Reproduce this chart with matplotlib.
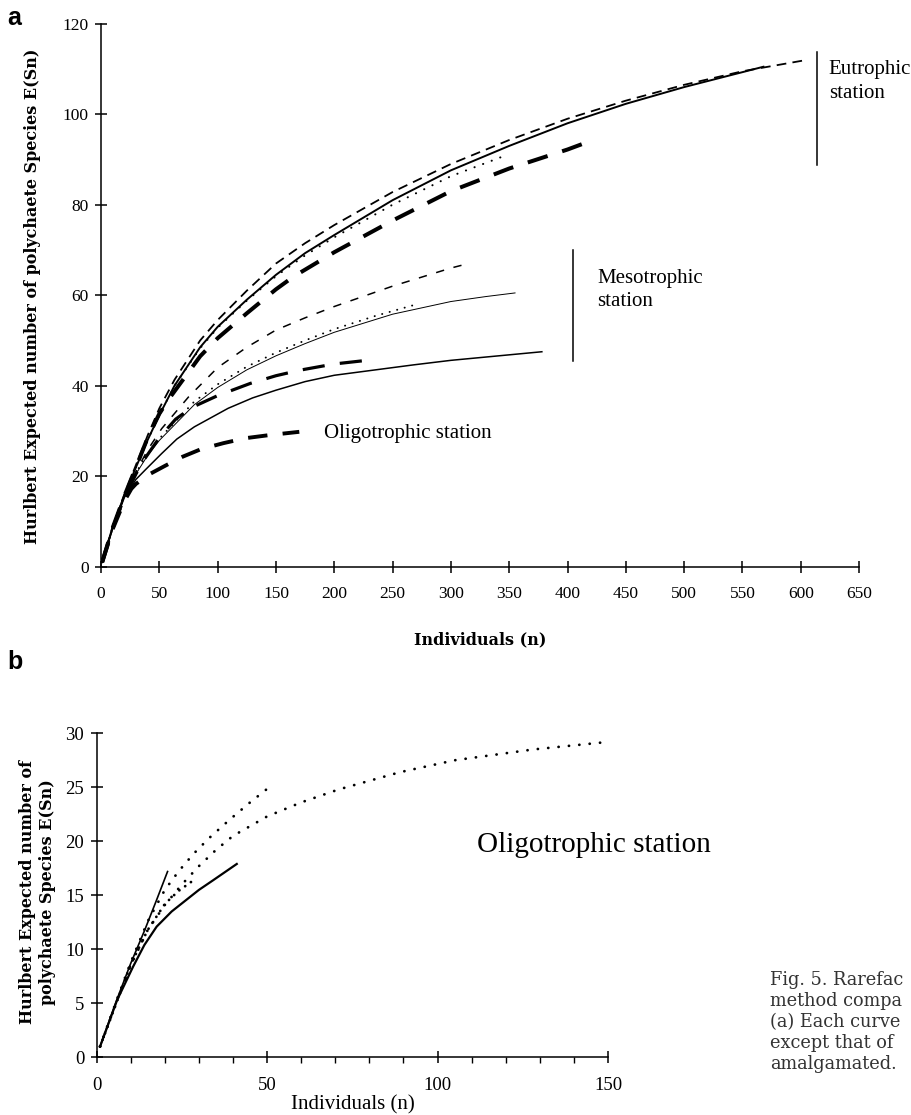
import matplotlib
matplotlib.use('Agg')
import matplotlib.pyplot as plt
from matplotlib.ticker import MultipleLocator

plt.rcParams['lines.scale_dashes'] = False
plt.rcParams['font.family'] = ['Liberation Serif', 'DejaVu Serif']

# ---- panel a: rarefaction curves (n individuals -> expected species)
# eutrophic station
eu_solid_n = [1, 10, 20, 30, 40, 50, 63, 85, 100, 125, 150, 175, 200, 250, 300, 350, 400, 450, 500, 550, 568]
eu_solid_s = [1, 8.8, 15.8, 22, 28, 33.5, 40, 48.5, 53, 59, 64.5, 69.3, 73.3, 81, 87.6, 93, 98, 102.3, 106, 109.3, 110.5]
eu_dash_n = [1, 10, 20, 30, 40, 50, 63, 85, 100, 125, 150, 175, 200, 250, 300, 350, 400, 450, 500, 550, 605]
eu_dash_s = [1, 8.9, 16, 22.5, 29, 35, 41.3, 50, 54.5, 61, 67, 71.5, 75.5, 82.8, 89, 94.3, 99, 103, 106.5, 109.5, 112]
eu_dot_n = [1, 10, 20, 30, 40, 50, 63, 85, 100, 125, 150, 175, 200, 250, 300, 348]
eu_dot_s = [1, 8.8, 15.8, 22, 28, 33.5, 40, 48.3, 52.8, 58.8, 64.2, 68.8, 72.8, 80, 86.3, 91]
eu_heavy_n = [1, 10, 20, 30, 40, 50, 58, 85, 100, 125, 150, 165, 200, 250, 300, 350, 400, 424]
eu_heavy_s = [1, 8.6, 15.6, 22, 28.5, 33.8, 37, 46.5, 50.5, 56, 61.3, 64.1, 69.5, 76.5, 83, 88, 92.2, 94.5]

# mesotrophic station
meso_dash_n = [1, 10, 20, 30, 40, 52, 75, 100, 125, 150, 175, 200, 250, 300, 315]
meso_dash_s = [1, 8.6, 15.6, 21, 25.8, 30.5, 37.5, 44, 48.5, 52.3, 55, 57.5, 62, 66, 67]
meso_dot_n = [1, 10, 20, 30, 40, 50, 80, 100, 125, 150, 175, 200, 235, 268]
meso_dot_s = [1, 8.6, 15.6, 20.8, 25, 28.3, 36.5, 40.3, 44.2, 47.3, 50, 52.5, 55.4, 57.8]
meso_thin_n = [1, 10, 20, 30, 40, 50, 80, 100, 125, 150, 175, 200, 250, 300, 330, 355]
meso_thin_s = [1, 8.6, 15.5, 20.5, 24.6, 27.9, 35.8, 39.6, 43.5, 46.6, 49.3, 51.8, 55.8, 58.6, 59.7, 60.5]
meso_heavy_n = [1, 10, 20, 30, 36, 50, 64, 78, 100, 128, 150, 170, 200, 235]
meso_heavy_s = [1, 8.5, 15.3, 20.5, 23.3, 28.5, 32.6, 35.2, 37.8, 40.5, 42.2, 43.4, 44.8, 45.8]
meso_solid_n = [1, 10, 20, 30, 38, 52, 65, 80, 109, 130, 150, 175, 200, 268, 300, 378]
meso_solid_s = [1, 8.4, 15.3, 19.3, 21.4, 25, 28.2, 30.9, 35, 37.3, 39, 40.9, 42.3, 44.6, 45.6, 47.5]

# oligotrophic station
oligo_n = [1, 10, 20, 26, 30, 42, 55, 70, 86, 105, 124, 145, 170]
oligo_s = [1, 8.3, 14.5, 17.2, 18.3, 20.5, 22.3, 24.3, 26.0, 27.3, 28.4, 29.1, 29.8]

# ---- panel b: oligotrophic station, single samples
b_line_n = [1, 6, 10, 14, 17.5, 20.8]
b_line_s = [1, 5.4, 8.7, 11.7, 14.5, 17.2]
b_solid_n = [1, 6, 10.7, 14, 17.6, 22, 26.4, 30, 34.2, 41.1]
b_solid_s = [1, 5.3, 8.4, 10.4, 12.1, 13.5, 14.6, 15.5, 16.4, 17.9]
b_dot1_n = [1, 6, 10, 15, 20, 24, 28.3, 33, 39, 45, 51]
b_dot1_s = [1, 5.4, 8.8, 12.6, 15.5, 17.2, 18.8, 20.3, 22, 23.6, 25.1]
b_dot2_n = [1, 6, 10, 15, 20, 25, 30, 35, 40, 50, 60, 71, 89, 105, 128, 150]
b_dot2_s = [1, 5.3, 8.5, 11.8, 14.1, 16, 17.7, 19.2, 20.5, 22.3, 23.6, 24.8, 26.4, 27.5, 28.5, 29.2]
b_dot3_n = [1, 6, 10, 15, 20, 24, 28]
b_dot3_s = [1, 5.2, 8.6, 11.8, 14.2, 15.4, 16.3]

ylab = 'Hurlbert Expected number of polychaete Species E(Sn)'
ylab_b = 'Hurlbert Expected number of\npolychaete Species E(Sn)'


def style_axes(ax, tick_size):
    for side in ['top', 'right']:
        ax.spines[side].set_visible(False)
    for side in ['left', 'bottom']:
        ax.spines[side].set_linewidth(1.1)
    ax.tick_params(which='major', direction='inout', length=8, width=1.1,
                   labelsize=tick_size, colors='black')
    ax.tick_params(axis='x', which='major', pad=10)
    ax.tick_params(axis='y', which='major', pad=5)


fig = plt.figure(figsize=(9.11, 11.15), dpi=100)

# ---------------- panel a
ax = fig.add_axes([0.1109, 0.4918, 0.8321, 0.4869])
ax.plot(eu_solid_n, eu_solid_s, color='black', lw=1.4)
ax.plot(eu_dash_n, eu_dash_s, color='black', lw=1.3, ls=(0, (7, 4.5)))
ax.plot(eu_dot_n, eu_dot_s, color='black', lw=1.5, ls=(0, (0.1, 6.5)), dash_capstyle='round')
ax.plot(eu_heavy_n, eu_heavy_s, color='black', lw=2.9, ls=(0, (15, 11)))
ax.plot(meso_dash_n, meso_dash_s, color='black', lw=1.1, ls=(0, (6, 7)))
ax.plot(meso_thin_n, meso_thin_s, color='black', lw=0.7)
ax.plot(meso_dot_n, meso_dot_s, color='black', lw=1.4, ls=(0, (0.1, 5.5)), dash_capstyle='round')
ax.plot(meso_heavy_n, meso_heavy_s, color='black', lw=2.3, ls=(0, (16, 11)))
ax.plot(meso_solid_n, meso_solid_s, color='black', lw=1.1)
ax.plot(oligo_n, oligo_s, color='black', lw=2.8, ls=(0, (14, 11)))

# station brackets and names
ax.plot([613.8, 613.8], [88.8, 113.7], color='black', lw=1.1)
ax.plot([405, 405], [45.5, 70], color='black', lw=1.1)
ax.text(624, 109.8, 'Eutrophic', fontsize=15, va='center', ha='left')
ax.text(624, 104.5, 'station', fontsize=15, va='center', ha='left')
ax.text(425.6, 63.7, 'Mesotrophic', fontsize=15, va='center', ha='left')
ax.text(425.6, 58.6, 'station', fontsize=15, va='center', ha='left')
ax.text(191.5, 29.5, 'Oligotrophic station', fontsize=15, va='center', ha='left')

ax.set_xlim(0, 650)
ax.set_ylim(0, 120)
ax.xaxis.set_major_locator(MultipleLocator(50))
ax.yaxis.set_major_locator(MultipleLocator(20))
style_axes(ax, 12.5)

fig.text(0.036, 0.7345, ylab, rotation=90, ha='center', va='center',
         fontsize=11.5, fontweight='bold', family='DejaVu Serif')
fig.text(0.527, 0.426, 'Individuals (n)', ha='center', va='center',
         fontsize=11.5, fontweight='bold', family='DejaVu Serif')
fig.text(0.008, 0.984, 'a', ha='left', va='center', fontsize=18,
         fontweight='bold', family='Liberation Sans')

# ---------------- panel b
bx = fig.add_axes([0.1061, 0.05175, 0.5613, 0.2906])
bx.plot(b_line_n, b_line_s, color='black', lw=1.2)
bx.plot(b_solid_n, b_solid_s, color='black', lw=1.6)
bx.plot(b_dot1_n, b_dot1_s, color='black', lw=2.0, ls=(0, (0.1, 7.4)), dash_capstyle='round')
bx.plot(b_dot2_n, b_dot2_s, color='black', lw=2.0, ls=(0, (0.1, 7.4)), dash_capstyle='round')
bx.plot(b_dot3_n, b_dot3_s, color='black', lw=2.0, ls=(0, (0.1, 5)), dash_capstyle='round')
bx.text(111.6, 19.7, 'Oligotrophic station', fontsize=21, va='center', ha='left')

bx.set_xlim(0, 150)
bx.set_ylim(0, 30)
bx.xaxis.set_major_locator(MultipleLocator(50))
bx.xaxis.set_minor_locator(MultipleLocator(10))
bx.yaxis.set_major_locator(MultipleLocator(5))
style_axes(bx, 13.5)
bx.tick_params(axis='x', which='minor', direction='out', length=4, width=1.0)

fig.text(0.041, 0.2, ylab_b, rotation=90, ha='center', va='center',
         fontsize=11.5, fontweight='bold', family='DejaVu Serif', linespacing=1.2)
fig.text(0.3875, 0.009, 'Individuals (n)', ha='center', va='center', fontsize=15)
fig.text(0.008, 0.406, 'b', ha='left', va='center', fontsize=18,
         fontweight='bold', family='Liberation Sans')

# caption fragment at the right edge of the page scan
caption = ['Fig. 5. Rarefac', 'method compa', '(a) Each curve', 'except that of', 'amalgamated.']
for i, line in enumerate(caption):
    fig.text(0.845, 0.121 - i * 0.0189, line, ha='left', va='center',
             fontsize=12.8, color='#333333', family='DejaVu Serif')

fig.savefig('out.png', dpi=100)
